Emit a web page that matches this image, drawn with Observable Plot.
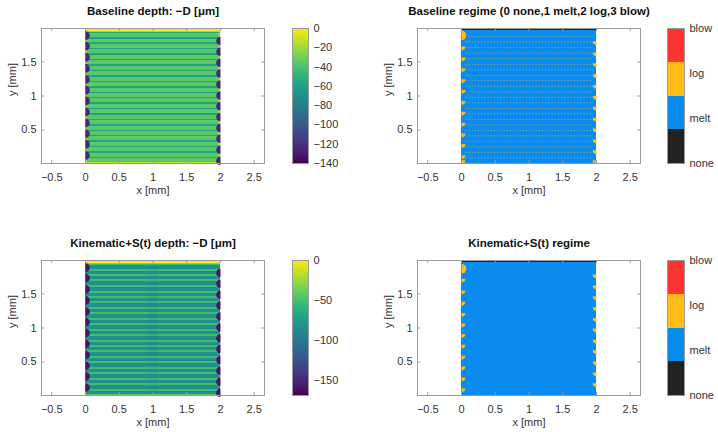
<!DOCTYPE html>
<html>
<head>
<meta charset="utf-8">
<script src="https://cdn.jsdelivr.net/npm/d3@7"></script>
<script src="https://cdn.jsdelivr.net/npm/@observablehq/plot@0.6"></script>
<style>
  body { margin: 0; background: #fff; }
  #fig { position: relative; width: 718px; height: 432px; overflow: hidden; background: #fff; }
  #fig svg { position: absolute; }
</style>
</head>
<body>
<div id="fig"></div>
<script>
// ---- axes ----
const xTicks = [-0.5, 0, 0.5, 1, 1.5, 2, 2.5];
const yTicks = [0.5, 1, 1.5];
const xLimits = [-0.652, 2.652];
const yLimits = [0.004, 1.996];
const plateX = [0, 2];
const plateY = [0, 2];

// ---- scan turnaround points on the plate edges (y, mm) ----
const leftTurnY = [1.891, 1.738, 1.570, 1.407, 1.244, 1.086, 0.928, 0.765, 0.602, 0.444, 0.286, 0.123];
const rightTurnY = [1.812, 1.654, 1.491, 1.333, 1.170, 1.007, 0.849, 0.691, 0.528, 0.370, 0.207, 0.044];

// ---- depth levels, −D in µm ----
const depthParts = ["top", "cap", "track", "seam", "turn", "bottom"];
const baselineDepth = [0, -18, -36, -58, -125, -16];
const kinematicDepth = [0, -30, -84, -52, -160, -42];
const topBandY = [1.952, 2];
const capBandY = [1.935, 1.952];
const bottomBandY = [0, 0.016];
const baselineEdgeX = [0.035, 1.965];
const baselineEdgeShift = 10;
const kinematicMidX = [0.94, 1.06];
const kinematicMidShift = -5;
const baselineDepthDomain = [-140, 0];
const baselineDepthTicks = [-140, -120, -100, -80, -60, -40, -20, 0];
const kinematicDepthDomain = [-169, 0];
const kinematicDepthTicks = [-150, -100, -50, 0];

// ---- regimes ----
const regimeCodes = [0, 1, 2, 3];
const regimeNames = ["none", "melt", "log", "blow"];
const regimeColors = ["#222222", "#0a8bf0", "#fdbc16", "#fe3333"];
const noneBandY = [1.968, 2];
const baseLogTopY = 1.895;
const baseLogLeftY = [1.704, 1.541, 1.383, 1.220, 1.062, 0.899, 0.741, 0.578, 0.420, 0.262, 0.099, 0.025];
const baseLogRightY = [1.778, 1.615, 1.457, 1.294, 1.136, 0.973, 0.815, 0.652, 0.494, 0.331, 0.173, 0.025];
const baseLogLineY = [1.881, 1.797, 1.714, 1.634, 1.551, 1.467, 1.388, 1.304, 1.225, 1.143, 1.062, 0.980,
                      0.899, 0.818, 0.737, 0.655, 0.574, 0.493, 0.412, 0.331, 0.250, 0.168, 0.087];
const logLineX = [0.06, 1.94];
const kinLogTopY = 1.874;
const kinLogLeftY = [1.699, 1.526, 1.358, 1.195, 1.037, 0.884, 0.726, 0.563, 0.405, 0.242, 0.084];
const kinLogRightY = [1.763, 1.600, 1.442, 1.279, 1.121, 0.963, 0.800, 0.642, 0.479, 0.316, 0.158];

// ---- layout ----
const FONT = "'Liberation Sans', Arial, Helvetica, sans-serif";
const M = {left: 41, top: 28, frameW: 223, frameH: 135};
const AXIS_GREY = "#9a9a9a";
const fmt = d => String(d).replace("-", "\u2212");

// half discs and quarter wedges for marks sitting on the plate edges
const halfRight = {draw(c, size) { const r = Math.sqrt(size / Math.PI); c.moveTo(0, -r); c.arc(0, 0, r, -Math.PI / 2, Math.PI / 2); c.closePath(); }};
const halfLeft = {draw(c, size) { const r = Math.sqrt(size / Math.PI); c.moveTo(0, -r); c.arc(0, 0, r, -Math.PI / 2, Math.PI / 2, true); c.closePath(); }};
const wedgeRight = {draw(c, size) { const r = Math.sqrt(size / Math.PI); const o = -r / 2; c.moveTo(0, o); c.lineTo(r, o); c.arc(0, o, r, 0, Math.PI / 2); c.closePath(); }};
const wedgeLeft = {draw(c, size) { const r = Math.sqrt(size / Math.PI); const o = -r / 2; c.moveTo(0, o); c.lineTo(-r, o); c.arc(0, o, r, Math.PI, Math.PI / 2, true); c.closePath(); }};

function axesMarks(title) {
  const fw = M.frameW, fh = M.frameH;
  return [
    Plot.frame({stroke: AXIS_GREY}),
    Plot.tickX(xTicks, {x: d => d, insetBottom: fh - 3, stroke: AXIS_GREY}),
    Plot.tickX(xTicks, {x: d => d, insetTop: fh - 3, stroke: AXIS_GREY}),
    Plot.tickY(yTicks, {y: d => d, insetRight: fw - 3, stroke: AXIS_GREY}),
    Plot.tickY(yTicks, {y: d => d, insetLeft: fw - 3, stroke: AXIS_GREY}),
    Plot.axisX({ticks: xTicks, tickSize: 0, tickPadding: 10, tickFormat: fmt, label: null}),
    Plot.axisY({ticks: yTicks, tickSize: 0, tickPadding: 5, tickFormat: fmt, label: null}),
    Plot.text(["x [mm]"], {frameAnchor: "bottom", lineAnchor: "middle", dy: 27, text: d => d}),
    Plot.text(["y [mm]"], {frameAnchor: "left", lineAnchor: "middle", dx: -29, rotate: -90, text: d => d}),
    Plot.text([title], {frameAnchor: "top", lineAnchor: "middle", dy: -17, text: d => d, fontWeight: "bold", fontSize: 11.5, fill: "#111"})
  ];
}

function baseOptions(color) {
  return {
    width: M.left + M.frameW + 16, height: 216,
    marginLeft: M.left, marginRight: 16, marginTop: M.top, marginBottom: 216 - M.top - M.frameH,
    x: {domain: xLimits},
    y: {domain: yLimits},
    color,
    style: {fontFamily: FONT, fontSize: "11px", color: "#333", background: "transparent", overflow: "visible"}
  };
}

function depthPanel(title, levels, domain, columns, seamHalf) {
  const v = name => levels[depthParts.indexOf(name)];
  const tracks = [...leftTurnY, ...rightTurnY].sort((a, b) => a - b);
  const pitch = d3.median(d3.pairs(tracks, (a, b) => b - a));
  const seams = [...d3.pairs(tracks, (a, b) => (a + b) / 2), tracks[tracks.length - 1] + pitch / 2];
  const cells = [];
  for (const [x1, x2, shift] of columns) {
    cells.push({x1, x2, y1: plateY[0], y2: plateY[1], v: v("track") + shift});
    for (const s of seams) cells.push({x1, x2, y1: s - seamHalf, y2: s + seamHalf, v: v("seam") + shift});
  }
  cells.push({x1: plateX[0], x2: plateX[1], y1: capBandY[0], y2: capBandY[1], v: v("cap")});
  cells.push({x1: plateX[0], x2: plateX[1], y1: topBandY[0], y2: topBandY[1], v: v("top")});
  cells.push({x1: plateX[0], x2: plateX[1], y1: bottomBandY[0], y2: bottomBandY[1], v: v("bottom")});
  return Plot.plot({
    ...baseOptions({type: "linear", scheme: "viridis", domain, clamp: true}),
    marks: [
      Plot.rect(cells, {x1: "x1", x2: "x2", y1: "y1", y2: "y2", fill: "v", shapeRendering: "crispEdges"}),
      Plot.dot(leftTurnY, {x: () => plateX[0], y: d => d, r: 4.3, symbol: halfRight, fill: () => v("turn"), stroke: null}),
      Plot.dot(rightTurnY, {x: () => plateX[1], y: d => d, r: 4.3, symbol: halfLeft, fill: () => v("turn"), stroke: null}),
      ...axesMarks(title)
    ]
  });
}

const regimeScale = {type: "threshold", domain: [0.75, 1.5, 2.25], range: regimeColors};

function regimePanel(title, topY, leftY, rightY, lineY) {
  const cells = [
    {x1: plateX[0], x2: plateX[1], y1: plateY[0], y2: plateY[1], v: 1},
    {x1: plateX[0], x2: plateX[1], y1: noneBandY[0], y2: noneBandY[1], v: 0}
  ];
  return Plot.plot({
    ...baseOptions(regimeScale),
    marks: [
      Plot.rect(cells, {x1: "x1", x2: "x2", y1: "y1", y2: "y2", fill: "v", shapeRendering: "crispEdges"}),
      Plot.ruleY(lineY, {y: d => d, x1: logLineX[0], x2: logLineX[1], stroke: () => 2,
                         strokeWidth: 1, strokeDasharray: "1.6,1.6", strokeOpacity: 0.5}),
      Plot.dot([topY], {x: () => plateX[0], y: d => d, r: 4.8, symbol: halfRight, fill: () => 2, stroke: null}),
      Plot.dot(leftY, {x: () => plateX[0], y: d => d, r: 3.8, symbol: wedgeRight, fill: () => 2, stroke: null}),
      Plot.dot(rightY, {x: () => plateX[1], y: d => d, r: 3.8, symbol: wedgeLeft, fill: () => 2, stroke: null}),
      ...axesMarks(title)
    ]
  });
}

function barOptions(color, domain, barW) {
  return {
    width: 6 + barW + 40, height: 216,
    marginLeft: 6, marginRight: 40, marginTop: M.top, marginBottom: 216 - M.top - M.frameH,
    x: {domain: [0, 1], axis: null},
    y: {domain},
    color,
    style: {fontFamily: FONT, fontSize: "11px", color: "#333", background: "transparent", overflow: "visible"}
  };
}

function depthColorbar(domain, ticks, barW) {
  const step = (domain[1] - domain[0]) / 256;
  const ramp = d3.range(256).map(i => domain[0] + i * step);
  return Plot.plot({
    ...barOptions({type: "linear", scheme: "viridis", domain}, domain, barW),
    marks: [
      Plot.rect(ramp, {x1: 0, x2: 1, y1: d => d, y2: d => d + step * 1.02, fill: d => d + step / 2, shapeRendering: "crispEdges"}),
      Plot.frame({stroke: AXIS_GREY}),
      Plot.axisY({anchor: "right", ticks, tickSize: 0, tickPadding: 5, tickFormat: fmt, label: null})
    ]
  });
}

function regimeColorbar(barW) {
  const seg = 3 / regimeCodes.length;
  return Plot.plot({
    ...barOptions(regimeScale, [0, 3], barW),
    marks: [
      Plot.rect(regimeCodes, {x1: 0, x2: 1, y1: d => d * seg, y2: d => (d + 1) * seg, fill: d => d, shapeRendering: "crispEdges"}),
      Plot.frame({stroke: AXIS_GREY}),
      Plot.axisY({anchor: "right", ticks: regimeCodes, tickSize: 0, tickPadding: 5, tickFormat: d => regimeNames[d], label: null})
    ]
  });
}

const fig = document.getElementById("fig");
function place(svg, left, top) { svg.style.left = left + "px"; svg.style.top = top + "px"; fig.appendChild(svg); }

place(depthPanel("Baseline depth: \u2212D [\u03bcm]", baselineDepth, baselineDepthDomain,
  [[plateX[0], baselineEdgeX[0], baselineEdgeShift], [baselineEdgeX[0], baselineEdgeX[1], 0], [baselineEdgeX[1], plateX[1], baselineEdgeShift]], 0.011), 0, 0);
place(depthColorbar(baselineDepthDomain, baselineDepthTicks, 16), 286, 0);

place(regimePanel("Baseline regime (0 none,1 melt,2 log,3 blow)", baseLogTopY, baseLogLeftY, baseLogRightY, baseLogLineY), 376, 0);
place(regimeColorbar(17), 661, 0);

place(depthPanel("Kinematic+S(t) depth: \u2212D [\u03bcm]", kinematicDepth, kinematicDepthDomain,
  [[plateX[0], kinematicMidX[0], 0], [kinematicMidX[0], kinematicMidX[1], kinematicMidShift], [kinematicMidX[1], plateX[1], 0]], 0.015), 0, 232);
place(depthColorbar(kinematicDepthDomain, kinematicDepthTicks, 16), 286, 232);

place(regimePanel("Kinematic+S(t) regime", kinLogTopY, kinLogLeftY, kinLogRightY, []), 376, 232);
place(regimeColorbar(17), 661, 232);
</script>
</body>
</html>
